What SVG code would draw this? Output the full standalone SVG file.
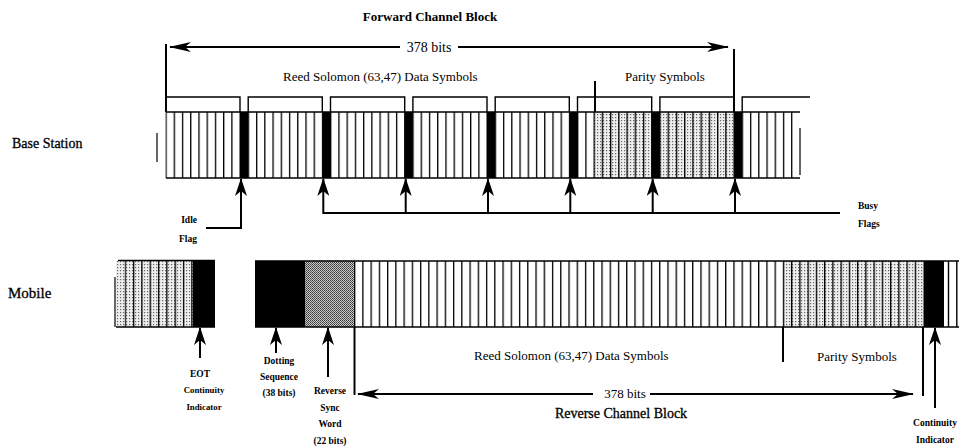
<svg xmlns="http://www.w3.org/2000/svg" width="959" height="448" viewBox="0 0 959 448">
<defs>
<style>
text{font-family:"Liberation Serif","Times New Roman",serif;fill:#000}
.title{font-size:13px;font-weight:bold}
.lbl{font-size:13px}
.side{font-size:14px;stroke:#000;stroke-width:0.3}
.sm{font-size:9.5px;font-weight:bold}
.ln{stroke:#000;stroke-width:1.4;fill:none}
.thin{stroke:#000;stroke-width:1.2;fill:none}
.arr{stroke:#000;stroke-width:2;fill:none}
.bar{fill:#000}
</style>
<pattern id="stripeB" patternUnits="userSpaceOnUse" x="165.4" y="0" width="8.233" height="10"><rect x="0" y="0" width="1.3" height="10" fill="#000"/></pattern>
<pattern id="stripeM" patternUnits="userSpaceOnUse" x="354" y="0" width="8.246" height="10"><rect x="0" y="0" width="1.3" height="10" fill="#000"/></pattern>
<pattern id="stripeL" patternUnits="userSpaceOnUse" x="124.6" y="0" width="8.33" height="10"><rect x="0" y="0" width="1.3" height="10" fill="#000"/></pattern>
<pattern id="dots" patternUnits="userSpaceOnUse" width="3" height="3"><rect width="3" height="3" fill="#eee"/><rect x="0" y="0" width="1.2" height="1.2" fill="#666"/></pattern>
<pattern id="hatch" patternUnits="userSpaceOnUse" width="2" height="2"><rect width="2" height="2" fill="#ccc"/><rect x="0" y="0" width="1" height="1" fill="#333"/><rect x="1" y="1" width="1" height="1" fill="#555"/></pattern>
<marker id="ahV" viewBox="0 0 18 12" refX="17" refY="6" markerWidth="18" markerHeight="12" markerUnits="userSpaceOnUse" orient="auto"><path d="M0,0 L18,6 L0,12 L5,6 Z" fill="#000"/></marker>
<marker id="ahH" viewBox="0 0 22 10" refX="21" refY="5" markerWidth="22" markerHeight="10" markerUnits="userSpaceOnUse" orient="auto-start-reverse"><path d="M0,0 L22,5 L0,10 L6,5 Z" fill="#000"/></marker>
</defs>
<rect width="959" height="448" fill="#fff"/>

<g id="titles">
<text class="title" x="430" y="21" text-anchor="middle">Forward Channel Block</text>
<text class="lbl" x="429" y="52" text-anchor="middle" style="font-size:14px">378 bits</text>
<text class="lbl" x="283" y="81">Reed Solomon (63,47) Data Symbols</text>
<text class="lbl" x="625" y="81">Parity Symbols</text>
<text class="side" x="12" y="148">Base Station</text>
<text class="side" x="8" y="298" style="font-size:15px">Mobile</text>
<text class="lbl" x="474" y="360">Reed Solomon (63,47) Data Symbols</text>
<text class="lbl" x="817" y="361">Parity Symbols</text>
<text class="lbl" x="625" y="398" text-anchor="middle">378 bits</text>
<text class="side" x="621" y="418" text-anchor="middle">Reverse Channel Block</text>
</g>

<g id="base-station">
<rect x="166" y="112" width="628" height="66" fill="#fff"/>
<rect x="594" y="112" width="140" height="66" fill="url(#dots)"/>
<rect x="165.4" y="112" width="627.5" height="66" fill="url(#stripeB)"/>
<rect class="bar" x="240" y="112" width="8.2" height="66"/>
<rect class="bar" x="322.3" y="112" width="8.2" height="66"/>
<rect class="bar" x="404.7" y="112" width="8.2" height="66"/>
<rect class="bar" x="487" y="112" width="8.2" height="66"/>
<rect class="bar" x="569.3" y="112" width="8.2" height="66"/>
<rect class="bar" x="651.7" y="112" width="8.2" height="66"/>
<rect class="bar" x="734" y="112" width="8.2" height="66"/>
<path class="ln" d="M166,112 H800 M166,178 H800"/>
<path class="ln" d="M166,112 V97 H240 V112 M248.2,112 V97 H322.3 V112 M330.5,112 V97 H404.7 V112 M412.9,112 V97 H487 V112 M495.2,112 V97 H569.3 V112 M577.5,112 V97 H651.7 V112 M659.9,112 V97 H734 V112 M742.2,112 V97 H810"/>
<path class="thin" d="M157,133 V162 M800,128 V175"/>
</g>

<g id="mobile-left">
<rect x="116" y="260.5" width="77" height="66.5" fill="url(#dots)"/>
<rect x="124.6" y="260.5" width="68.4" height="66.5" fill="url(#stripeL)"/>
<rect class="bar" x="193" y="260.5" width="22" height="66.5"/>
<path class="ln" d="M118,260.5 H215 M116,327 H215"/>
<path class="thin" d="M115,277 V327"/>
</g>

<g id="mobile-block">
<rect x="255" y="261" width="704" height="66" fill="#fff"/>
<rect class="bar" x="255" y="261" width="50" height="66"/>
<rect x="305" y="261" width="49.5" height="66" fill="url(#hatch)"/>
<rect x="783.3" y="261" width="140.2" height="66" fill="url(#dots)"/>
<rect x="354" y="261" width="569" height="66" fill="url(#stripeM)"/>
<rect class="bar" x="923.5" y="261" width="20.5" height="66"/>
<path class="ln" d="M948.5,261 V327 M956.8,261 V327"/>
<path class="ln" d="M255,261 H959 M255,327 H959"/>
</g>

<g id="connectors">
<path class="arr" d="M166,44 V112 M734,49 V112 M595,81 V112"/>
<line class="arr" x1="400" y1="47" x2="170" y2="47" marker-end="url(#ahH)"/>
<line class="arr" x1="458" y1="47" x2="728" y2="47" marker-end="url(#ahH)"/>
<path class="arr" d="M206,228 H241 V179" marker-end="url(#ahV)"/>
<path class="arr" d="M840,213 H323.3 V179" marker-end="url(#ahV)"/>
<line class="arr" x1="405.7" y1="213" x2="405.7" y2="179" marker-end="url(#ahV)"/>
<line class="arr" x1="488" y1="213" x2="488" y2="179" marker-end="url(#ahV)"/>
<line class="arr" x1="570.3" y1="213" x2="570.3" y2="179" marker-end="url(#ahV)"/>
<line class="arr" x1="652.7" y1="213" x2="652.7" y2="179" marker-end="url(#ahV)"/>
<line class="arr" x1="735" y1="213" x2="735" y2="179" marker-end="url(#ahV)"/>
<line class="arr" x1="200" y1="358" x2="200" y2="328" marker-end="url(#ahV)"/>
<line class="arr" x1="276" y1="353" x2="276" y2="328" marker-end="url(#ahV)"/>
<line class="arr" x1="328" y1="377" x2="328" y2="328" marker-end="url(#ahV)"/>
<line class="arr" x1="935" y1="408" x2="935" y2="328" marker-end="url(#ahV)"/>
<path class="arr" d="M354.5,327 V395 M923,327 V396 M783,327 V362"/>
<line class="arr" x1="593" y1="394" x2="358" y2="394" marker-end="url(#ahH)"/>
<line class="arr" x1="650" y1="394" x2="913" y2="394" marker-end="url(#ahH)"/>
</g>

<g id="flag-labels">
<text class="sm" x="197" y="223" text-anchor="end">Idle</text>
<text class="sm" x="197" y="242" text-anchor="end">Flag</text>
<text class="sm" x="858" y="209">Busy</text>
<text class="sm" x="858" y="227">Flags</text>
</g>

<g id="mobile-labels">
<text class="sm" x="200" y="377" text-anchor="middle">EOT</text>
<text class="sm" x="204" y="393" text-anchor="middle" style="font-size:8.8px">Continuity</text>
<text class="sm" x="204" y="410" text-anchor="middle" style="font-size:8.8px">Indicator</text>
<text class="sm" x="279" y="364" text-anchor="middle">Dotting</text>
<text class="sm" x="279" y="380" text-anchor="middle">Sequence</text>
<text class="sm" x="279" y="396" text-anchor="middle">(38 bits)</text>
<text class="sm" x="330" y="394" text-anchor="middle">Reverse</text>
<text class="sm" x="330" y="411" text-anchor="middle">Sync</text>
<text class="sm" x="330" y="427" text-anchor="middle">Word</text>
<text class="sm" x="330" y="444" text-anchor="middle">(22 bits)</text>
<text class="sm" x="935" y="426" text-anchor="middle">Continuity</text>
<text class="sm" x="935" y="443" text-anchor="middle">Indicator</text>
</g>
</svg>
